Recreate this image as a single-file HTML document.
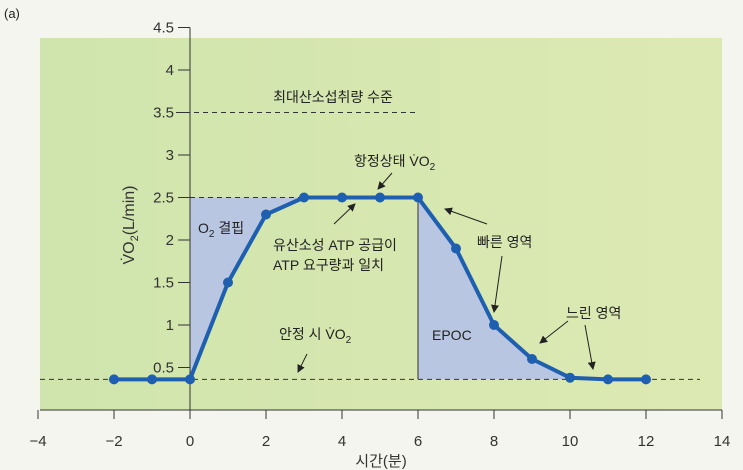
<!DOCTYPE html>
<html><head><meta charset="utf-8"><style>
body{margin:0;background:#f4f5ee;}
svg{display:block;font-family:"Liberation Sans","Noto Sans CJK KR",sans-serif;}
</style></head><body>
<svg width="743" height="470" viewBox="0 0 743 470">
<defs><linearGradient id="bg" x1="0" x2="1" y1="0" y2="0"><stop offset="0" stop-color="#cfe5ad"/><stop offset="1" stop-color="#dde9b2"/></linearGradient></defs>
<rect x="0" y="0" width="743" height="470" fill="#f4f5ee"/>
<text x="4" y="18" font-size="13" fill="#222">(a)</text>
<rect x="40" y="38" width="682" height="372" fill="url(#bg)"/>
<g id="shade"></g>
<g id="axes"></g>
<g id="series"></g>
<g id="ann" font-size="14" fill="#222"></g>
</svg>
<script>
const times=[-2,-1,0,1,2,3,4,5,6,7,8,9,10,11,12];
const vo2=[0.36,0.36,0.36,1.5,2.3,2.5,2.5,2.5,2.5,1.9,1.0,0.6,0.38,0.36,0.36];
const xTicks=[-4,-2,0,2,4,6,8,10,12,14];
const yTicks=[0.5,1,1.5,2,2.5,3,3.5,4,4.5];
const restLevel=0.36, steadyLevel=2.5, maxLevel=3.5;
const NS="http://www.w3.org/2000/svg";
const X=v=>190+v*38, Y=v=>410-v*85;
function mk(t,a,p){const e=document.createElementNS(NS,t);for(const k in a)e.setAttribute(k,a[k]);(p||document.querySelector('svg')).appendChild(e);return e;}
const shade=document.getElementById('shade'),axes=document.getElementById('axes'),ser=document.getElementById('series'),ann=document.getElementById('ann');
let pts=[[X(0),Y(restLevel)],[X(0),Y(steadyLevel)],[X(3),Y(steadyLevel)]];
for(let i=5;i>=2;i--){if(times[i]>=0&&times[i]<=3)pts.push([X(times[i]),Y(vo2[i])]);}
let e=mk('polygon',{points:pts.map(p=>p.join(',')).join(' '),fill:'#b8c6e2'},shade);


pts=[[X(6),Y(restLevel)]];
times.forEach((t,i)=>{if(t>=6&&t<=10)pts.push([X(t),Y(vo2[i])]);});
pts.push([X(10),Y(restLevel)]);
e=mk('polygon',{points:pts.map(p=>p.join(',')).join(' '),fill:'#b8c6e2'},shade);


e=mk('line',{x1:40,y1:410,x2:722,y2:410,stroke:'#333','stroke-width':1},axes);


e=mk('line',{x1:190,y1:Y(4.5),x2:190,y2:410,stroke:'#333','stroke-width':1},axes);


xTicks.forEach(t=>{
 e=mk('line',{x1:X(t),y1:410,x2:X(t),y2:419,stroke:'#333'},axes);
 
 
 e=mk('text',{x:X(t),y:446,'text-anchor':'middle','font-size':15,fill:'#333'},axes);
 e.textContent=t<0?'\u2212'+(-t):t;
 
 
});
yTicks.forEach(t=>{
 e=mk('line',{x1:178,y1:Y(t),x2:190,y2:Y(t),stroke:'#333'},axes);
 
 
 e=mk('text',{x:174,y:Y(t)+5,'text-anchor':'end','font-size':15,fill:'#333'},axes);
 e.textContent=t;
 
 
});
e=mk('text',{x:381,y:466,'text-anchor':'middle','font-size':15,fill:'#333'},axes);
e.textContent='시간(분)';


e=mk('text',{transform:'translate(134,225) rotate(-90)','text-anchor':'middle','font-size':16,fill:'#333'},axes);
e.innerHTML='V̇O<tspan font-size="11" dy="4">2</tspan><tspan dy="-4">(L/min)</tspan>';


function dash(x1,x2,v,n){const l=mk('line',{x1:x1,y1:Y(v),x2:x2,y2:Y(v),stroke:'#333','stroke-dasharray':'5,4'},axes);}
dash(40,700,restLevel,'resting-vo2-line');
dash(190,X(3),steadyLevel,'steady-state-line');
dash(176,418,maxLevel,'vo2max-line');
e=mk('line',{x1:X(6),y1:Y(steadyLevel),x2:X(6),y2:Y(restLevel),stroke:'#333'},axes);


e=mk('polyline',{points:times.map((t,i)=>X(t)+','+Y(vo2[i])).join(' '),fill:'none',stroke:'#1f5fb0','stroke-width':4,'stroke-linejoin':'round'},ser);


times.forEach((t,i)=>{
 const c=mk('circle',{cx:X(t),cy:Y(vo2[i]),r:5,fill:'#1f5fb0'},ser);
 
 
});
function txt(x,y,s,n,a){const t=mk('text',{x:x,y:y,'text-anchor':a||'start'},ann);t.innerHTML=s;}
txt(333,102,'최대산소섭취량 수준','vo2max-label','middle');
txt(354,166,'항정상태 V̇O<tspan font-size="10" dy="4">2</tspan>','steady-state-label');
txt(198,233,'O<tspan font-size="10" dy="4">2</tspan><tspan dy="-4"> 결핍</tspan>','o2-deficit-label');
txt(273,250,'유산소성 ATP 공급이','atp-label-1');
txt(273,270,'ATP 요구량과 일치','atp-label-2');
txt(279,339,'안정 시 V̇O<tspan font-size="10" dy="4">2</tspan>','resting-label');
txt(432,340,'EPOC','epoc-label');
txt(477,247,'빠른 영역','fast-component-label');
txt(566,318,'느린 영역','slow-component-label');
const defs=mk('defs',{});
const m=mk('marker',{id:'ah',markerWidth:8,markerHeight:8,refX:7,refY:4,orient:'auto',markerUnits:'userSpaceOnUse'},defs);
mk('path',{d:'M0,0 L8,4 L0,8 z',fill:'#222'},m);
function arr(x1,y1,x2,y2,n){const l=mk('line',{x1:x1,y1:y1,x2:x2,y2:y2,stroke:'#222','stroke-width':1,'marker-end':'url(#ah)'},ann);}
arr(392,173,378,189,'steady-state-arrow');
arr(334,224,355,204,'atp-arrow');
arr(307,354,298,372,'resting-arrow');
arr(487,224,445,209,'fast-arrow-1');
arr(502,256,494,312,'fast-arrow-2');
arr(568,321,540,343,'slow-arrow-1');
arr(585,325,593,369,'slow-arrow-2');
</script>
</body></html>
